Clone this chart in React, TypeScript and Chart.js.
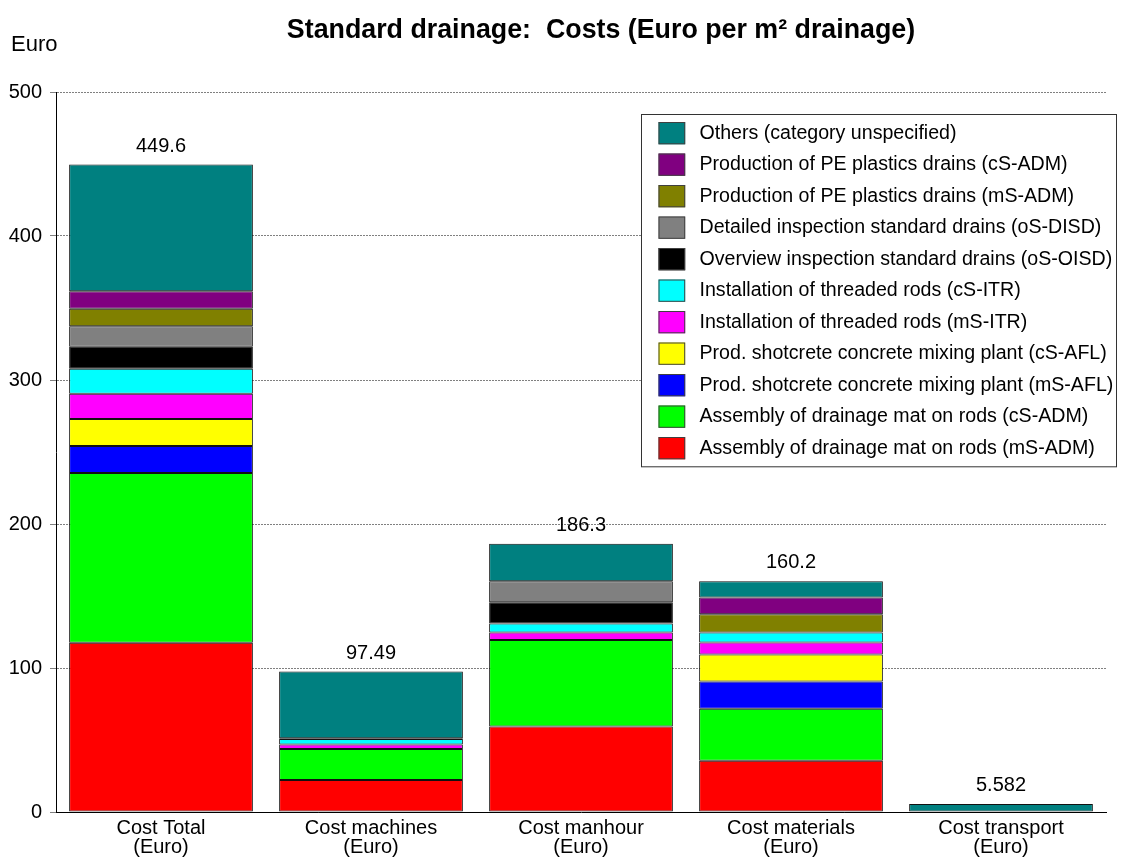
import React, { useEffect, useRef } from 'react';
import { Chart, registerables } from 'chart.js';

Chart.register(...registerables);

const FONT = '"Liberation Sans", Arial, Helvetica, sans-serif';

const categories: string[][] = [
  ['Cost Total', '(Euro)'],
  ['Cost machines', '(Euro)'],
  ['Cost manhour', '(Euro)'],
  ['Cost materials', '(Euro)'],
  ['Cost transport', '(Euro)'],
];

const yTicks = [0, 100, 200, 300, 400, 500];

// series values, bottom of stack first
const assemblyMatMS = [117.5, 22.2, 59.4, 35.6, null];
const assemblyMatCS = [118.0, 21.5, 60.0, 36.1, null];
const shotcreteMS = [18.7, null, null, 18.9, null];
const shotcreteCS = [18.7, null, null, 18.8, null];
const threadedRodsMS = [17.6, 3.2, 5.2, 8.3, null];
const threadedRodsCS = [17.3, 3.8, 6.3, 6.9, null];
const overviewInspection = [15.3, 0.5, 14.8, null, null];
const detailedInspection = [14.2, null, 14.6, null, null];
const peDrainsMS = [12.2, null, null, 12.8, null];
const peDrainsCS = [12.1, null, null, 11.5, null];
const others = [88.0, 46.29, 26.0, 11.3, 5.582];

const seriesLabels = [
  'Assembly of drainage mat on rods (mS-ADM)',
  'Assembly of drainage mat on rods (cS-ADM)',
  'Prod. shotcrete concrete mixing plant (mS-AFL)',
  'Prod. shotcrete concrete mixing plant (cS-AFL)',
  'Installation of threaded rods (mS-ITR)',
  'Installation of threaded rods (cS-ITR)',
  'Overview inspection standard drains (oS-OISD)',
  'Detailed inspection standard drains (oS-DISD)',
  'Production of PE plastics drains (mS-ADM)',
  'Production of PE plastics drains (cS-ADM)',
  'Others (category unspecified)',
];

const seriesValues = [
  assemblyMatMS,
  assemblyMatCS,
  shotcreteMS,
  shotcreteCS,
  threadedRodsMS,
  threadedRodsCS,
  overviewInspection,
  detailedInspection,
  peDrainsMS,
  peDrainsCS,
  others,
];

const seriesColors = [
  '#FF0000',
  '#00FF00',
  '#0000FF',
  '#FFFF00',
  '#FF00FF',
  '#00FFFF',
  '#000000',
  '#808080',
  '#808000',
  '#800080',
  '#008080',
];

const titleText = 'Standard drainage:  Costs (Euro per m\u00B2 drainage)';
const yAxisTitle = 'Euro';

const overlayPlugin = {
  id: 'overlay',
  afterDatasetsDraw(chart: any) {
    const { ctx, scales } = chart;
    const yScale = scales.y;
    const meta0 = chart.getDatasetMeta(0);
    ctx.save();
    ctx.fillStyle = '#000';
    ctx.font = `20px ${FONT}`;
    ctx.textAlign = 'center';
    ctx.textBaseline = 'alphabetic';
    categories.forEach((_, i) => {
      let sum = 0;
      chart.data.datasets.forEach((ds: any) => {
        const v = ds.data[i];
        if (typeof v === 'number') sum += v;
      });
      const x = meta0.data[i].x;
      const y = yScale.getPixelForValue(sum);
      ctx.fillText(Number(sum.toPrecision(4)).toString(), x, y - 13);
    });
    ctx.restore();
  },
  afterDraw(chart: any) {
    const { ctx, chartArea, width } = chart;
    ctx.save();
    // title
    ctx.fillStyle = '#000';
    ctx.font = `bold 26.8px ${FONT}`;
    ctx.textAlign = 'center';
    ctx.textBaseline = 'middle';
    ctx.fillText(titleText, (chartArea.left + chartArea.right) / 2 + 20, 23);
    // y axis title
    ctx.font = `22px ${FONT}`;
    ctx.textAlign = 'left';
    ctx.fillText(yAxisTitle, 3, 37);

    // legend
    const boxRight = width - 1;
    const boxLeft = boxRight - 476;
    const boxTop = chartArea.top + 22;
    const rowH = 31.5;
    const n = seriesLabels.length;
    const boxBottom = boxTop + 8 + (n - 1) * rowH + 22.3 + 8;
    ctx.fillStyle = '#fff';
    ctx.fillRect(boxLeft, boxTop, boxRight - boxLeft, boxBottom - boxTop);
    ctx.strokeStyle = '#333';
    ctx.lineWidth = 1;
    ctx.strokeRect(boxLeft + 0.5, boxTop + 0.5, boxRight - boxLeft - 1, boxBottom - boxTop - 1);
    ctx.font = `19.6px ${FONT}`;
    ctx.textBaseline = 'middle';
    ctx.textAlign = 'left';
    for (let k = 0; k < n; k++) {
      const idx = n - 1 - k;
      const sy = boxTop + 8 + k * rowH;
      const sx = boxLeft + 17.5;
      ctx.fillStyle = seriesColors[idx];
      ctx.fillRect(sx, sy, 26.7, 22.3);
      ctx.strokeStyle = '#404040';
      ctx.strokeRect(sx + 0.5, sy + 0.5, 25.7, 21.3);
      ctx.fillStyle = '#000';
      ctx.fillText(seriesLabels[idx], boxLeft + 58.5, sy + 11.5);
    }
    ctx.restore();
  },
};

export default function App() {
  const canvasRef = useRef<HTMLCanvasElement | null>(null);

  useEffect(() => {
    if (!canvasRef.current) return;
    const chart = new Chart(canvasRef.current, {
      type: 'bar',
      data: {
        labels: categories,
        datasets: seriesValues.map((vals, i) => ({
          label: seriesLabels[i],
          data: vals,
          backgroundColor: seriesColors[i],
          borderColor: '#111',
          borderWidth: 1,
          borderSkipped: false,
          barPercentage: 0.875,
          categoryPercentage: 1,
        })),
      },
      options: {
        animation: false,
        responsive: true,
        maintainAspectRatio: false,
        layout: { padding: { top: 84, right: 12, bottom: 0, left: 0 } },
        plugins: {
          legend: { display: false },
          title: { display: false },
          tooltip: { enabled: false },
        },
        scales: {
          x: {
            stacked: true,
            grid: { display: false, drawTicks: false },
            border: { display: true, color: '#000', width: 1 },
            ticks: {
              color: '#000',
              font: { family: FONT, size: 20, lineHeight: 0.95 },
              padding: 7,
              maxRotation: 0,
              autoSkip: false,
            },
            afterFit: (scale: any) => {
              scale.height = 55;
            },
          },
          y: {
            stacked: true,
            min: yTicks[0],
            max: yTicks[yTicks.length - 1],
            afterBuildTicks: (scale: any) => {
              scale.ticks = yTicks.map((v) => ({ value: v }));
            },
            grid: {
              color: '#808080',
              lineWidth: 1,
              drawTicks: true,
              tickLength: 6,
              tickColor: '#808080',
            },
            border: { display: true, color: '#000', width: 1, dash: [2, 1] },
            ticks: {
              color: '#000',
              font: { family: FONT, size: 20 },
              padding: 8,
            },
            afterFit: (scale: any) => {
              scale.width = 48;
            },
          },
        },
      },
      plugins: [overlayPlugin],
    });
    return () => chart.destroy();
  }, []);

  return (
    <div style={{ position: 'relative', width: 1110, height: 859, marginBottom: -8 }}>
      <canvas ref={canvasRef} />
    </div>
  );
}
